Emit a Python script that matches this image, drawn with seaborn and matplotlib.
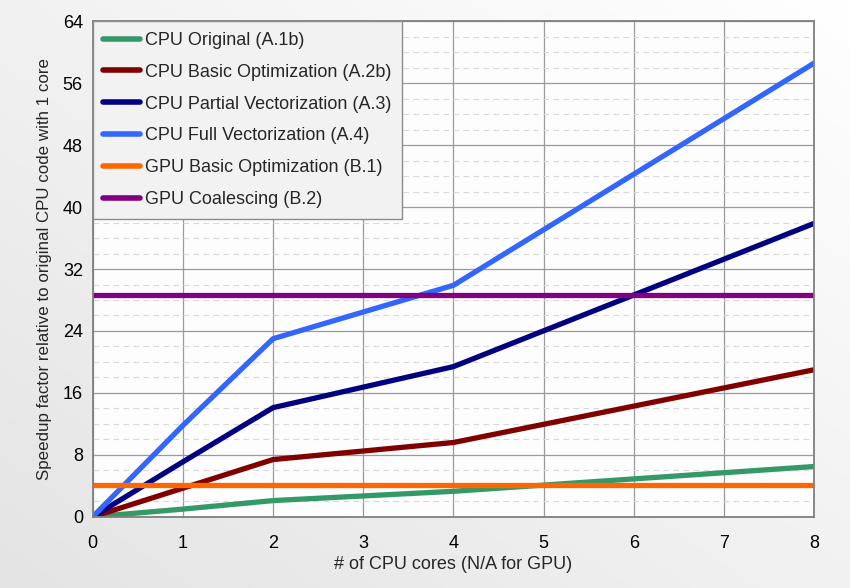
import numpy as np
import pandas as pd
import matplotlib
matplotlib.use("Agg")
import matplotlib.pyplot as plt
import seaborn as sns
from matplotlib.ticker import MultipleLocator
from matplotlib.colors import LinearSegmentedColormap

# data
cores = [0, 1, 2, 4, 8]
cpu_original = [0, 1.0, 2.1, 3.3, 6.5]
cpu_basic = [0, 3.7, 7.4, 9.6, 19.0]
cpu_partial = [0, 7.1, 14.1, 19.4, 37.9]
cpu_full = [0, 11.8, 23.0, 29.9, 58.6]
gpu_span = [0, 8]
gpu_basic = [4.1, 4.1]
gpu_coalescing = [28.6, 28.6]

series_names = [
    "CPU Original (A.1b)",
    "CPU Basic Optimization (A.2b)",
    "CPU Partial Vectorization (A.3)",
    "CPU Full Vectorization (A.4)",
    "GPU Basic Optimization (B.1)",
    "GPU Coalescing (B.2)",
]
series_colors = ["#339966", "#800000", "#000080", "#3366ff", "#ff6600", "#800080"]

rows = []
for name, ys in zip(series_names[:4], [cpu_original, cpu_basic, cpu_partial, cpu_full]):
    rows += [(name, x, y) for x, y in zip(cores, ys)]
for name, ys in zip(series_names[4:], [gpu_basic, gpu_coalescing]):
    rows += [(name, x, y) for x, y in zip(gpu_span, ys)]
df = pd.DataFrame(rows, columns=["Series", "Cores", "Speedup"])

sns.set_theme(style="white")
plt.rcParams["font.family"] = ["Liberation Sans", "DejaVu Sans"]

fig = plt.figure(figsize=(8.5, 5.88), dpi=100)
# soft gray gradient backdrop (lighter towards top right)
bg = fig.add_axes([0, 0, 1, 1], zorder=-10)
grad = np.linspace(0, 1, 256)
shade = LinearSegmentedColormap.from_list("shade", ["#ffffff", "#e4e4e4"])
bg.imshow(np.add.outer(grad, grad[::-1]) / 2, cmap=shade, vmin=0, vmax=1,
          aspect="auto", extent=[0, 1, 0, 1])
bg.axis("off")

ax = fig.add_axes([0.109, 0.121, 0.849, 0.843])
ax.set_facecolor("#fdfdfd")

sns.lineplot(data=df, x="Cores", y="Speedup", hue="Series", hue_order=series_names,
             palette=series_colors, linewidth=3.8, ax=ax, sort=False, estimator=None)

ax.set_xlim(0, 8)
ax.set_ylim(0, 64)
ax.xaxis.set_major_locator(MultipleLocator(1))
ax.yaxis.set_major_locator(MultipleLocator(8))
ax.yaxis.set_minor_locator(MultipleLocator(2))
ax.grid(which="major", color="#9a9a9a", linewidth=0.9)
ax.grid(which="minor", axis="y", color="#d8d8d8", linestyle=(0, (5, 4)), linewidth=0.8)
ax.set_axisbelow(True)
for s in ax.spines.values():
    s.set_color("#7f7f7f")
    s.set_linewidth(1.3)
ax.tick_params(axis="both", which="major", direction="out", length=4, width=1,
               color="#7f7f7f", labelsize=13, labelcolor="black")
ax.tick_params(axis="x", pad=9)
ax.tick_params(axis="y", pad=3)
ax.tick_params(which="minor", length=0)

ax.set_xlabel("# of CPU cores (N/A for GPU)", fontsize=13, labelpad=3)
ax.set_ylabel("Speedup factor relative to original CPU code with 1 core", fontsize=12.2, labelpad=8)

leg = ax.legend(loc="upper left", frameon=True, fontsize=13, handlelength=2.0,
                handletextpad=0.3, labelspacing=0.82, borderpad=0.6,
                borderaxespad=0, fancybox=False)
leg.get_frame().set_facecolor("#f2f2f2")
leg.get_frame().set_edgecolor("#8c8c8c")
leg.get_frame().set_alpha(1)
for line in leg.get_lines():
    line.set_linewidth(4)

plt.savefig("out.png", dpi=100)
plt.close()
